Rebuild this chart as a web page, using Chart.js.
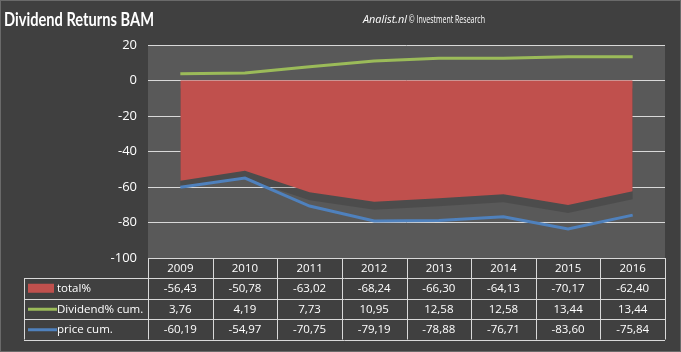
<!DOCTYPE html>
<html lang="en">
<head>
<meta charset="UTF-8">
<title>Dividend Returns BAM</title>
<script src="https://cdn.jsdelivr.net/npm/chart.js"></script>
<style>
    body { margin: 0; background: #404040; }
    #wrap { width: 681px; height: 352px; }
</style>
</head>
<body>
<div id="wrap"><canvas id="myChart" width="681" height="352"></canvas></div>
<script>
    const years = ['2009', '2010', '2011', '2012', '2013', '2014', '2015', '2016'];
    const totalPct = [-56.43, -50.78, -63.02, -68.24, -66.30, -64.13, -70.17, -62.40];
    const dividendCum = [3.76, 4.19, 7.73, 10.95, 12.58, 12.58, 13.44, 13.44];
    const priceCum = [-60.19, -54.97, -70.75, -79.19, -78.88, -76.71, -83.60, -75.84];
    const yTicks = [20, 0, -20, -40, -60, -80, -100];

    const RED = '#c0504d', GREEN = '#9bbb59', BLUE = '#4f81bd';
    const fmt = v => v.toFixed(2).replace('.', ',');

    // draw text squeezed to a target width (Calibri-like narrow look)
    function fitText(ctx, txt, x, y, maxW) {
        const w = ctx.measureText(txt).width;
        const s = Math.min(1, maxW / w);
        ctx.save();
        ctx.translate(x, y);
        ctx.scale(s, 1);
        ctx.fillText(txt, 0, 0);
        ctx.restore();
        return w * s;
    }

    const decor = {
        id: 'decor',
        beforeDraw(chart) {
            const {ctx, chartArea: a} = chart;
            ctx.save();
            ctx.fillStyle = '#404040';
            ctx.fillRect(0, 0, chart.width, chart.height);
            ctx.strokeStyle = '#6a6a6a';
            ctx.strokeRect(0.5, 0.5, chart.width - 1, chart.height - 1);
            ctx.fillStyle = '#595959';
            ctx.fillRect(a.left, a.top, a.right - a.left, a.bottom - a.top);
            ctx.restore();
        },
        beforeDatasetsDraw(chart) {
            // soft shadow under the total% area
            const {ctx, chartArea: a} = chart;
            const pts = chart.getDatasetMeta(0).data;
            const y0 = chart.scales.y.getPixelForValue(0);
            ctx.save();
            ctx.beginPath();
            ctx.rect(a.left, a.top, a.right - a.left, a.bottom - a.top);
            ctx.clip();
            ctx.translate(0, 8);
            ctx.beginPath();
            ctx.moveTo(pts[0].x, y0);
            pts.forEach(p => ctx.lineTo(p.x, p.y));
            ctx.lineTo(pts[pts.length - 1].x, y0);
            ctx.closePath();
            ctx.fillStyle = 'rgba(0,0,0,0.14)';
            ctx.fill();
            ctx.restore();
        },
        afterDraw(chart) {
            const {ctx, chartArea: a} = chart;
            const xs = chart.scales.x;
            const colW = (a.right - a.left) / years.length;
            ctx.save();

            // title
            ctx.fillStyle = '#ffffff';
            ctx.textBaseline = 'alphabetic';
            ctx.textAlign = 'left';
            ctx.font = 'bold 19px "Liberation Sans Narrow", Lato, sans-serif';
            fitText(ctx, 'Dividend Returns BAM', 4, 26, 150);

            ctx.font = 'italic 11px "Open Sans", sans-serif';
            let w = fitText(ctx, 'Analist.nl', 363, 23, 44);
            ctx.font = '11px "Open Sans", sans-serif';
            fitText(ctx, ' \u00a9 Investment Research', 363 + w, 23, 78);

            // data table
            const rows = [
                {label: 'total%', data: totalPct, color: RED, key: 'rect'},
                {label: 'Dividend% cum.', data: dividendCum, color: GREEN, key: 'line'},
                {label: 'price cum.', data: priceCum, color: BLUE, key: 'line'}
            ];
            const top = a.bottom;
            const rowH = [20, 20.5, 20.5, 20.5];
            const rowY = [top];
            rowH.forEach((h, i) => rowY.push(rowY[i] + h));
            const legL = 24;

            ctx.strokeStyle = '#d9d9d9';
            ctx.lineWidth = 1;
            ctx.beginPath();
            // horizontal lines
            ctx.moveTo(a.left, Math.round(rowY[0]) + 0.5);
            ctx.lineTo(a.right, Math.round(rowY[0]) + 0.5);
            for (let r = 1; r < rowY.length; r++) {
                ctx.moveTo(legL, Math.round(rowY[r]) + 0.5);
                ctx.lineTo(a.right, Math.round(rowY[r]) + 0.5);
            }
            // vertical lines
            for (let i = 0; i <= years.length; i++) {
                const x = Math.round(a.left + i * colW) + 0.5;
                ctx.moveTo(x, rowY[0]);
                ctx.lineTo(x, rowY[4]);
            }
            ctx.moveTo(legL + 0.5, rowY[1]);
            ctx.lineTo(legL + 0.5, rowY[4]);
            ctx.stroke();

            ctx.font = '11.5px "Open Sans", sans-serif';
            ctx.textAlign = 'center';
            ctx.textBaseline = 'middle';
            ctx.fillStyle = '#ffffff';
            years.forEach((yr, i) => {
                ctx.fillText(yr, xs.getPixelForValue(i), (rowY[0] + rowY[1]) / 2 + 0.5);
            });
            rows.forEach((row, r) => {
                const cy = (rowY[r + 1] + rowY[r + 2]) / 2 + 0.5;
                row.data.forEach((v, i) => {
                    ctx.fillText(fmt(v), xs.getPixelForValue(i), cy);
                });
                if (row.key === 'rect') {
                    ctx.fillStyle = row.color;
                    ctx.fillRect(28, cy - 5, 26, 9);
                } else {
                    ctx.strokeStyle = row.color;
                    ctx.lineWidth = 3;
                    ctx.beginPath();
                    ctx.moveTo(28, cy);
                    ctx.lineTo(57, cy);
                    ctx.stroke();
                }
                ctx.fillStyle = '#ffffff';
                ctx.textAlign = 'left';
                ctx.fillText(row.label, 57, cy);
                ctx.textAlign = 'center';
            });
            ctx.restore();
        }
    };

    new Chart(document.getElementById('myChart'), {
        type: 'line',
        data: {
            labels: years,
            datasets: [
                {
                    label: 'total%',
                    data: totalPct,
                    fill: 'origin',
                    backgroundColor: RED,
                    borderWidth: 0,
                    borderColor: 'rgba(0,0,0,0)',
                    pointRadius: 0,
                    order: 3
                },
                {
                    label: 'Dividend% cum.',
                    data: dividendCum,
                    borderColor: GREEN,
                    borderWidth: 3,
                    pointRadius: 0,
                    fill: false,
                    order: 2
                },
                {
                    label: 'price cum.',
                    data: priceCum,
                    borderColor: BLUE,
                    borderWidth: 3,
                    pointRadius: 0,
                    fill: false,
                    order: 1
                }
            ]
        },
        options: {
            responsive: false,
            animation: false,
            layout: { padding: { top: 45, bottom: 94, left: 0, right: 16 } },
            plugins: {
                legend: { display: false },
                tooltip: { enabled: false },
                title: { display: false }
            },
            scales: {
                x: {
                    type: 'category',
                    offset: true,
                    display: false
                },
                y: {
                    min: -100,
                    max: 20,
                    afterFit(scale) { scale.width = 148; },
                    afterBuildTicks(scale) { scale.ticks = yTicks.map(v => ({value: v})); },
                    border: { display: false },
                    grid: {
                        color: '#d9d9d9',
                        lineWidth: 1,
                        drawTicks: false
                    },
                    ticks: {
                        color: '#ffffff',
                        padding: 11,
                        font: { family: '"Open Sans", sans-serif', size: 13 }
                    }
                }
            }
        },
        plugins: [decor]
    });
</script>
</body>
</html>
